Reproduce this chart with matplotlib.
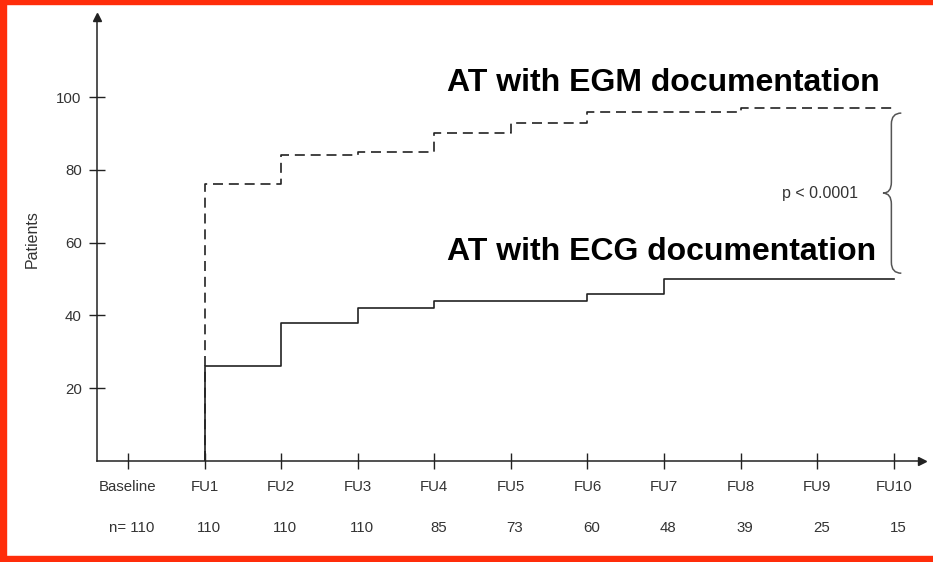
import matplotlib
matplotlib.use("Agg")
import matplotlib.pyplot as plt
from matplotlib.path import Path
from matplotlib.patches import PathPatch, Rectangle

plt.rcParams['font.family'] = ['Liberation Sans', 'DejaVu Sans']

# data
visits = ["Baseline", "FU1", "FU2", "FU3", "FU4", "FU5", "FU6", "FU7", "FU8", "FU9", "FU10"]
n_at_risk = ["n= 110", "110", "110", "110", "85", "73", "60", "48", "39", "25", "15"]
egm = [76, 84, 85, 90, 93, 96, 96, 97, 97, 97]   # FU1..FU10, dashed
ecg = [26, 38, 42, 44, 44, 46, 50, 50, 50, 50]   # FU1..FU10, solid
yticks = [20, 40, 60, 80, 100]

fig = plt.figure(figsize=(9.33, 5.62), dpi=100)
ax = fig.add_axes([97 / 933, 101 / 562, 825 / 933, 444 / 562])

xs = list(range(len(visits)))
fu_x = xs[1:]
line_col = '#222222'
txt_col = '#333333'

# step curves starting from zero at FU1
ax.step([fu_x[0]] + fu_x, [0] + egm, where='post', color=line_col, lw=1.2,
        dashes=(6, 3.5))
ax.step([fu_x[0]] + fu_x, [0] + ecg, where='post', color=line_col, lw=1.2)

ax.set_xlim(-0.405, 10.37)
ax.set_ylim(0, 122)

# axes look
for s in ['top', 'right']:
    ax.spines[s].set_visible(False)
for s in ['left', 'bottom']:
    ax.spines[s].set_color(line_col)
    ax.spines[s].set_linewidth(1.1)
ax.plot(1, 0, '>', color=line_col, ms=6, transform=ax.transAxes, clip_on=False)
ax.plot(0, 1, '^', color=line_col, ms=6, transform=ax.transAxes, clip_on=False)

ax.set_xticks(xs)
ax.set_xticklabels(visits)
ax.set_yticks(yticks)
ax.tick_params(axis='both', direction='inout', length=12, width=1, color=line_col,
               labelcolor=txt_col, labelsize=10.8)
ax.tick_params(axis='x', pad=8)
ax.tick_params(axis='y', pad=5)
ax.set_ylabel("Patients", fontsize=11.5, color=txt_col, labelpad=12)

# n at risk row
for x, t in zip(xs, n_at_risk):
    ax.annotate(t, xy=(x, 0), xycoords=('data', 'axes fraction'),
                xytext=(3, -48), textcoords='offset points',
                ha='center', va='center', fontsize=10.8, color=txt_col)

# group labels
ax.text(4.17, 104, "AT with EGM documentation", fontsize=23, fontweight='bold',
        ha='left', va='center', color='black')
ax.text(4.17, 57.5, "AT with ECG documentation", fontsize=23, fontweight='bold',
        ha='left', va='center', color='black')

# curly brace between the end values
ytop = egm[-1] - 1.4
ybot = ecg[-1] + 1.6
ymid = (ytop + ybot) / 2
x0, xm, x1 = 9.86, 9.97, 10.10
d = 3.0
verts = [(x1, ytop), (xm, ytop), (xm, ytop - d),
         (xm, ymid + d),
         (xm, ymid), (x0, ymid),
         (xm, ymid), (xm, ymid - d),
         (xm, ybot + d),
         (xm, ybot), (x1, ybot)]
codes = [Path.MOVETO, Path.CURVE3, Path.CURVE3,
         Path.LINETO,
         Path.CURVE3, Path.CURVE3,
         Path.CURVE3, Path.CURVE3,
         Path.LINETO,
         Path.CURVE3, Path.CURVE3]
ax.add_patch(PathPatch(Path(verts, codes), fill=False, edgecolor='#555555', lw=1.1,
                       clip_on=False))
ax.text(9.53, ymid, "p < 0.0001", fontsize=11.5, color=txt_col, ha='right', va='center')

# red frame (left, top, bottom)
red = '#ff2d0a'
fig.patches.append(Rectangle((0, 0), 6 / 933, 1, transform=fig.transFigure, color=red))
fig.patches.append(Rectangle((0, 1 - 4 / 562), 1, 4 / 562, transform=fig.transFigure, color=red))
fig.patches.append(Rectangle((0, 0), 1, 6 / 562, transform=fig.transFigure, color=red))

fig.savefig("out.png", dpi=100)
